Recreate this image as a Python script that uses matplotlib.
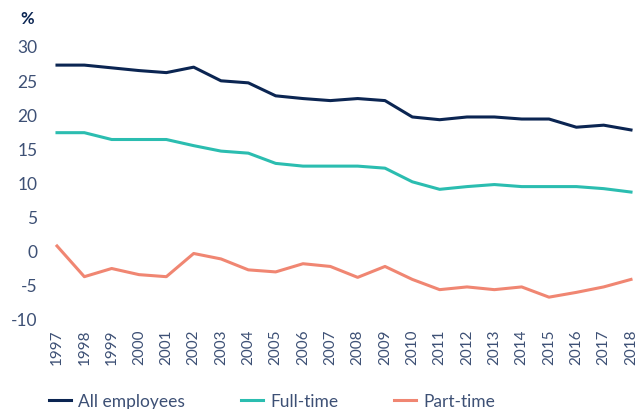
import numpy as np
import matplotlib.pyplot as plt

plt.rcParams['font.family'] = ['Lato', 'DejaVu Sans']
plt.rcParams['axes.unicode_minus'] = False

years = np.arange(1997, 2019)
all_emp = [27.2, 27.2, 26.8, 26.4, 26.1, 26.9, 24.9, 24.6, 22.7, 22.3, 22.0,
           22.3, 22.0, 19.6, 19.2, 19.6, 19.6, 19.3, 19.3, 18.1, 18.4, 17.7]
full_time = [17.3, 17.3, 16.3, 16.3, 16.3, 15.4, 14.6, 14.3, 12.8, 12.4, 12.4,
             12.4, 12.1, 10.1, 9.0, 9.4, 9.7, 9.4, 9.4, 9.4, 9.1, 8.6]
part_time = [0.7, -3.8, -2.6, -3.5, -3.8, -0.4, -1.2, -2.8, -3.1, -1.9, -2.3,
             -3.9, -2.3, -4.2, -5.7, -5.3, -5.7, -5.3, -6.8, -6.1, -5.3, -4.2]

text_col = '#3d5075'

fig = plt.figure(figsize=(6.37, 4.10), dpi=100)
ax = fig.add_axes([57 / 637, 1 - 320 / 410, (631 - 57) / 637, (320 - 47) / 410])

ax.plot(years, all_emp, color='#0b2552', lw=2.2, label='All employees', clip_on=False)
ax.plot(years, full_time, color='#2bbdb0', lw=2.2, label='Full-time', clip_on=False)
ax.plot(years, part_time, color='#f08672', lw=2.2, label='Part-time', clip_on=False)

ax.set_xlim(1997, 2018)
ax.set_ylim(-10, 30)
ax.set_yticks(np.arange(-10, 31, 5))
ax.set_xticks(years)
ax.set_xticklabels([str(y) for y in years], rotation=90)
ax.tick_params(length=0, colors=text_col)
ax.tick_params(axis='y', pad=14, labelsize=12.5)
ax.tick_params(axis='x', pad=7, labelsize=11)
for s in ax.spines.values():
    s.set_visible(False)

fig.text(20 / 637, 1 - 19 / 410, '%', fontsize=12, fontweight='bold',
         color='#0b2552', va='center')

fig.legend(loc='center left', bbox_to_anchor=(33 / 637, 1 - 402 / 410), ncol=3,
           frameon=False, fontsize=12.5, labelcolor=text_col,
           handlelength=1.3, columnspacing=3.2, handletextpad=0.4)

fig.savefig('out.png', dpi=100)
